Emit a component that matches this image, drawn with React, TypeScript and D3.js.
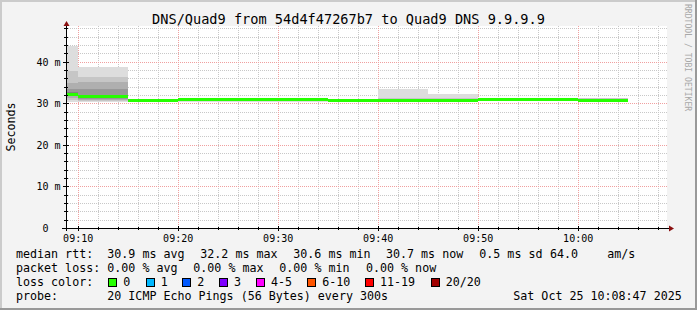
import React from 'react';
import * as d3 from 'd3';

// ---- data ----
const endTimes = ["09:10", "09:15", "09:20", "09:25", "09:30", "09:35", "09:40", "09:45", "09:50", "09:55", "10:00", "10:05"];
const median = [32.2, 31.6, 30.7, 30.8, 30.8, 30.8, 30.7, 30.6, 30.7, 30.8, 30.8, 30.7];
const pMin = [30.3, 30.2, 30.2, 30.4, 30.4, 30.4, 30.4, 30.3, 30.4, 30.5, 30.5, 30.4];
const p10 = [30.8, 30.5, 30.4, 30.5, 30.5, 30.5, 30.5, 30.4, 30.5, 30.6, 30.6, 30.5];
const p20 = [31.3, 30.7, 30.5, 30.6, 30.6, 30.6, 30.6, 30.5, 30.6, 30.7, 30.7, 30.6];
const p30 = [31.7, 31.0, 30.6, 30.7, 30.7, 30.7, 30.6, 30.5, 30.6, 30.7, 30.7, 30.7];
const p40 = [32.0, 31.4, 30.7, 30.8, 30.8, 30.7, 30.7, 30.6, 30.7, 30.8, 30.8, 30.8];
const p60 = [32.6, 32.0, 30.8, 30.9, 30.9, 30.8, 30.8, 30.7, 30.8, 30.9, 30.9, 31.0];
const p70 = [33.4, 33.4, 30.8, 30.9, 30.9, 30.9, 30.8, 30.8, 30.9, 30.9, 30.9, 31.1];
const p80 = [34.8, 35.0, 30.9, 31.0, 31.0, 30.9, 30.9, 31.0, 31.0, 31.0, 31.0, 31.1];
const p90 = [37.8, 36.4, 31.0, 31.0, 31.0, 31.0, 30.9, 31.2, 31.2, 31.0, 31.0, 31.2];
const pMax = [43.7, 38.8, 31.1, 31.1, 31.1, 31.0, 31.0, 33.4, 32.3, 31.1, 31.1, 31.2];

const yTicks = [0, 10, 20, 30, 40];
const yTickLabels = ["0", "10 m", "20 m", "30 m", "40 m"];
const xTickLabels = ["09:10", "09:20", "09:30", "09:40", "09:50", "10:00"];

const title = "DNS/Quad9 from 54d4f47267b7 to Quad9 DNS 9.9.9.9";
const row1 = ["median rtt:", "30.9 ms avg", "32.2 ms max", "30.6 ms min", "30.7 ms now", "0.5 ms sd", "64.0", "am/s"];
const row2 = ["packet loss:", "0.00 % avg", "0.00 % max", "0.00 % min", "0.00 % now"];
const lossLabels = ["0", "1", "2", "3", "4-5", "6-10", "11-19", "20/20"];
const lossColors = ["#26ff00", "#00b8ff", "#0059ff", "#7e00ff", "#ff00ff", "#ff5500", "#ff0000", "#a10000"];
const row4 = ["probe:", "20 ICMP Echo Pings (56 Bytes) every 300s", "Sat Oct 25 10:08:47 2025"];

const FONT = "'DejaVu Sans Mono', monospace";

export default function App() {
  const W = 697, H = 310;
  const left = 66, right = 666, top = 26, bottom = 228;
  const parse = (s: string) => {
    const [h, m] = s.split(':').map(Number);
    return new Date(2025, 9, 25, h, m, 0);
  };
  const start = new Date(2025, 9, 25, 9, 8, 47);
  const end = new Date(2025, 9, 25, 10, 8, 47);
  const x = d3.scaleTime().domain([start, end]).range([left, right]);
  const y = d3.scaleLinear().domain([0, 48.56]).range([bottom, top]);
  const cx = (v: number) => Math.round(v) + 0.5;

  const minorY = d3.range(2, 49, 2).filter((v) => v % 10 !== 0);
  const minorX = d3.timeMinute.every(2)!.range(new Date(2025, 9, 25, 9, 10), end).filter((d) => d.getMinutes() % 10 !== 0);
  const majorX = xTickLabels.map(parse);

  const bands: [number[], number[], string][] = [
    [pMin, pMax, '#dddddd'],
    [p10, p90, '#c6c6c6'],
    [p20, p80, '#afafaf'],
    [p30, p70, '#989898'],
    [p40, p60, '#808080'],
  ];

  const intervals = endTimes.map((t, i) => {
    const e = parse(t);
    const s = new Date(e.getTime() - 300000);
    return { x0: Math.max(left, x(s)), x1: x(e), i };
  });

  const row1X = [16, 107.3, 200.3, 293.3, 386, 479.3, 550, 607.3];
  const row2X = [16, 107.3, 193.3, 279.3, 366];
  const boxX = [108.3, 145.7, 182.3, 219, 256, 307.3, 365, 430.7];
  const row4X = [16, 107.3, 513.3];

  const minorColor = '#c8c8c8';
  const majorColor = '#f0a0a0';

  return (
    <svg width={W} height={H} style={{ position: 'absolute', left: 0, top: 0 }} xmlns="http://www.w3.org/2000/svg">
      <rect x={0} y={0} width={W} height={H} fill="#f3f3f3" />
      {/* frame */}
      <rect x={0} y={0} width={W} height={2} fill="#cbcbcb" />
      <rect x={0} y={0} width={2} height={H} fill="#cbcbcb" />
      <rect x={0} y={H - 2} width={W} height={2} fill="#999999" />
      <rect x={W - 2} y={0} width={2} height={H} fill="#999999" />

      {/* canvas */}
      <rect x={left} y={top} width={right - left + 1} height={bottom - top} fill="#ffffff" />

      {/* minor grid */}
      <g stroke={minorColor} strokeWidth={1} strokeDasharray="1,1" shapeRendering="crispEdges">
        {minorY.map((v) => (
          <line key={'my' + v} x1={left} x2={right + 2} y1={cx(y(v))} y2={cx(y(v))} />
        ))}
        {minorX.map((d) => (
          <line key={'mx' + d.getTime()} x1={cx(x(d))} x2={cx(x(d))} y1={top} y2={bottom} />
        ))}
      </g>
      {/* major grid */}
      <g stroke={majorColor} strokeWidth={1} strokeDasharray="1,1" shapeRendering="crispEdges">
        {yTicks.filter((v) => v > 0).map((v) => (
          <line key={'My' + v} x1={left} x2={right + 2} y1={cx(y(v))} y2={cx(y(v))} />
        ))}
        {majorX.map((d) => (
          <line key={'Mx' + d.getTime()} x1={cx(x(d))} x2={cx(x(d))} y1={top} y2={bottom} />
        ))}
      </g>

      {/* smoke */}
      <g shapeRendering="crispEdges">
        {bands.map(([lo, hi, col], b) =>
          intervals.map(({ x0, x1, i }) => (
            <rect key={'b' + b + '_' + i} x={x0} y={y(hi[i])} width={x1 - x0} height={Math.max(0, y(lo[i]) - y(hi[i]))} fill={col} />
          ))
        )}
      </g>

      {/* median */}
      <g shapeRendering="crispEdges">
        {intervals.map(({ x0, x1, i }) => (
          <rect key={'m' + i} x={x0} y={y(median[i]) - 1.5} width={x1 - x0} height={3} fill={lossColors[0]} />
        ))}
      </g>

      {/* axes */}
      <g stroke="#000" strokeWidth={1} shapeRendering="crispEdges">
        <line x1={cx(left)} x2={cx(left)} y1={top - 2} y2={bottom + 3} />
        <line x1={left - 4} x2={right + 4} y1={cx(bottom)} y2={cx(bottom)} />
        {minorY.map((v) => (
          <line key={'ty' + v} x1={left - 2} x2={left + 2} y1={cx(y(v))} y2={cx(y(v))} />
        ))}
        {yTicks.map((v) => (
          <line key={'Ty' + v} x1={left - 3} x2={left + 3} y1={cx(y(v))} y2={cx(y(v))} />
        ))}
        {minorX.map((d) => (
          <line key={'tx' + d.getTime()} x1={cx(x(d))} x2={cx(x(d))} y1={bottom - 1} y2={bottom + 2} />
        ))}
        {majorX.map((d) => (
          <line key={'Tx' + d.getTime()} x1={cx(x(d))} x2={cx(x(d))} y1={bottom - 2} y2={bottom + 3} />
        ))}
      </g>
      {/* arrows */}
      <path d={`M${left - 2.5},${top} L${left + 3.5},${top} L${left + 0.5},${top - 5} Z`} fill="#8a1010" />
      <path d={`M${right + 3},${bottom - 2.5} L${right + 3},${bottom + 3.5} L${right + 8},${bottom + 0.5} Z`} fill="#8a1010" />

      {/* tick labels */}
      <g fontFamily={FONT} fontSize={10} fill="#000">
        {yTicks.map((v, i) => (
          <text key={'yl' + v} x={v === 0 ? 48.5 : 60.5} y={cx(y(v)) + 3.5} textAnchor="end">{yTickLabels[i]}</text>
        ))}
        {majorX.map((d, i) => (
          <text key={'xl' + i} x={x(d)} y={241.5} textAnchor="middle">{xTickLabels[i]}</text>
        ))}
      </g>

      {/* title */}
      <text x={348.5} y={24} textAnchor="middle" fontFamily={FONT} fontSize={13.6} fill="#000">{title}</text>

      {/* y label */}
      <text transform={`translate(15,${(top + bottom) / 2}) rotate(-90)`} textAnchor="middle" fontFamily={FONT} fontSize={11.67} fill="#000">Seconds</text>

      {/* watermark */}
      <text transform="translate(685,4) rotate(90)" fontFamily={FONT} fontSize={8.1} fill="#a8a8a8">RRDTOOL / TOBI OETIKER</text>

      {/* legend */}
      <g fontFamily={FONT} fontSize={11.67} fill="#000">
        {row1.map((s, i) => (
          <text key={'r1' + i} x={row1X[i]} y={258}>{s}</text>
        ))}
        {row2.map((s, i) => (
          <text key={'r2' + i} x={row2X[i]} y={272}>{s}</text>
        ))}
        <text x={16} y={286}>loss color:</text>
        {lossLabels.map((s, i) => (
          <g key={'lc' + i}>
            <rect x={Math.round(boxX[i]) + 0.5} y={278.5} width={8} height={8} fill={lossColors[i]} stroke="#000" strokeWidth={1} />
            <text x={boxX[i] + 15} y={286}>{s}</text>
          </g>
        ))}
        {row4.map((s, i) => (
          <text key={'r4' + i} x={row4X[i]} y={300}>{s}</text>
        ))}
      </g>
    </svg>
  );
}
